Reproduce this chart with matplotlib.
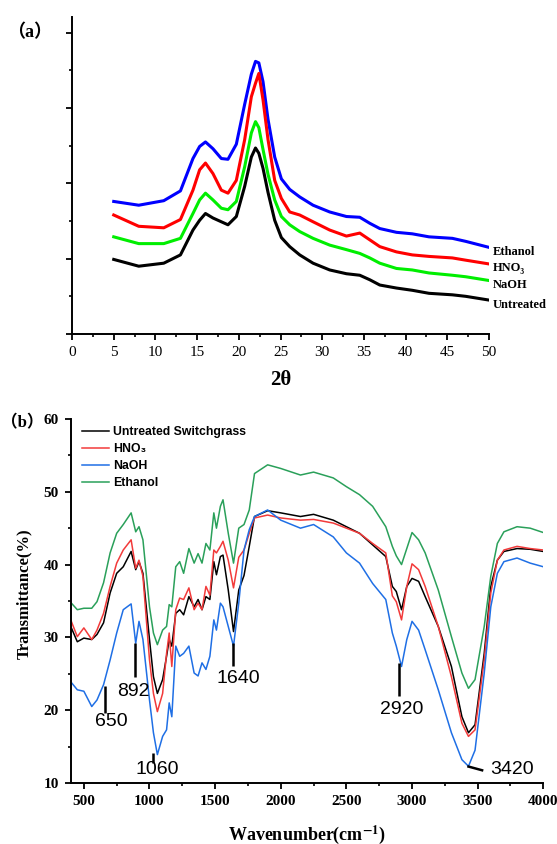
import matplotlib.pyplot as plt
from matplotlib.ticker import MultipleLocator

serif = ['Liberation Serif', 'DejaVu Serif']
sans = ['Liberation Sans', 'DejaVu Sans']
paren = ['Liberation Serif', 'Noto Sans CJK SC']
plt.rcParams['mathtext.fontset'] = 'stix'

# (a) XRD patterns, arbitrary offset units
two_theta = [5, 8, 11, 13, 14.5, 15.3, 16, 16.9, 17.9, 18.7, 19.7, 20.7, 21.5, 22.0, 22.4,
             22.9, 23.5, 24.3, 25.1, 26.1, 27.3, 28.9, 30.9, 32.9, 34.5, 35.7, 36.9, 38.9,
             40.8, 42.8, 45.6, 47.2, 50]
xrd_ethanol = [1.76, 1.71, 1.77, 1.90, 2.33, 2.49, 2.55, 2.46, 2.33, 2.32, 2.52, 3.05, 3.45, 3.62,
               3.60, 3.35, 2.85, 2.35, 2.06, 1.92, 1.82, 1.71, 1.62, 1.56, 1.55, 1.47, 1.40, 1.35,
               1.33, 1.29, 1.27, 1.23, 1.15]
xrd_hno3 = [1.58, 1.43, 1.41, 1.52, 1.91, 2.18, 2.27, 2.13, 1.91, 1.87, 2.04, 2.58, 3.15, 3.33,
            3.46, 3.11, 2.58, 2.04, 1.80, 1.62, 1.58, 1.49, 1.38, 1.30, 1.34, 1.25, 1.16, 1.09,
            1.05, 1.03, 1.01, 0.98, 0.93]
xrd_naoh = [1.29, 1.20, 1.20, 1.27, 1.60, 1.78, 1.87, 1.78, 1.67, 1.65, 1.76, 2.22, 2.67, 2.82,
            2.74, 2.45, 2.12, 1.78, 1.56, 1.45, 1.36, 1.27, 1.18, 1.12, 1.07, 1.01, 0.94, 0.87,
            0.85, 0.81, 0.78, 0.76, 0.71]
xrd_untreated = [0.99, 0.90, 0.94, 1.05, 1.38, 1.51, 1.60, 1.54, 1.49, 1.45, 1.56, 1.96, 2.35, 2.47,
                 2.40, 2.20, 1.88, 1.51, 1.28, 1.16, 1.05, 0.94, 0.85, 0.80, 0.78, 0.72, 0.65, 0.61,
                 0.58, 0.54, 0.52, 0.50, 0.45]
xrd_names = ['Ethanol', 'HNO₃', 'NaOH', 'Untreated']

# (b) FTIR spectra, transmittance %
wavenumber = [400, 450, 500, 560, 600, 650, 700, 750, 800, 860, 895, 920, 950, 1000, 1030, 1060,
              1100, 1130, 1150, 1170, 1200, 1230, 1260, 1300, 1340, 1370, 1400, 1430, 1460, 1490,
              1510, 1540, 1560, 1600, 1640, 1680, 1720, 1760, 1800, 1900, 2000, 2150, 2250, 2400,
              2500, 2600, 2700, 2800, 2850, 2880, 2920, 2960, 3000, 3050, 3100, 3200, 3300, 3380,
              3430, 3480, 3550, 3600, 3650, 3700, 3800, 3900, 4000]
ftir_untreated = [31.5, 29.4, 29.9, 29.7, 30.4, 32.0, 36.1, 38.8, 39.7, 41.8, 39.3, 40.4, 38.8, 29.7,
                  24.6, 22.3, 24.2, 27.4, 29.7, 28.8, 33.3, 33.8, 33.1, 35.6, 34.2, 35.2, 33.8, 35.6,
                  35.2, 40.4, 38.6, 41.1, 41.3, 36.5, 30.8, 36.5, 38.5, 42.5, 46.6, 47.4, 47.1, 46.6,
                  46.9, 46.1, 45.2, 44.3, 42.7, 41.1, 37.0, 36.3, 33.8, 37.0, 38.1, 37.7, 35.6, 31.5,
                  26.0, 19.1, 16.9, 18.0, 27.8, 37.0, 40.6, 41.8, 42.2, 42.1, 41.8]
ftir_hno3 = [32.4, 30.1, 31.3, 29.7, 31.0, 33.3, 37.0, 40.2, 42.0, 43.4, 39.5, 40.6, 38.4, 26.9,
             22.3, 19.8, 22.3, 27.8, 30.6, 26.0, 33.8, 35.4, 35.2, 36.8, 33.8, 34.7, 33.8, 37.0,
             35.8, 42.0, 41.6, 42.5, 43.2, 40.6, 36.8, 41.0, 42.0, 44.3, 46.4, 46.8, 46.4, 46.1,
             46.2, 45.7, 45.0, 44.3, 42.9, 41.6, 35.7, 34.9, 32.4, 37.0, 40.1, 39.3, 37.0, 31.5,
             24.6, 18.2, 16.4, 17.3, 26.9, 36.1, 40.6, 42.0, 42.5, 42.2, 42.0]
ftir_naoh = [23.9, 22.8, 22.6, 20.5, 21.4, 23.5, 26.9, 30.6, 33.8, 34.6, 29.2, 32.2, 29.7, 21.4,
             16.9, 13.9, 16.4, 17.3, 21.0, 19.1, 28.8, 27.4, 27.8, 28.8, 25.1, 24.7, 26.5, 25.6,
             27.4, 32.4, 31.0, 34.7, 34.2, 31.5, 28.8, 34.7, 42.0, 44.8, 46.6, 47.5, 46.1, 45.0,
             45.5, 43.8, 41.6, 40.2, 37.4, 35.2, 30.6, 28.8, 26.0, 29.7, 32.2, 31.0, 28.3, 22.8,
             16.9, 13.2, 12.3, 14.5, 25.1, 34.2, 38.8, 40.4, 40.9, 40.2, 39.7]
ftir_ethanol = [34.8, 33.8, 34.0, 34.0, 34.9, 37.5, 41.6, 44.3, 45.5, 47.1, 44.5, 45.2, 43.4, 34.2,
                30.6, 29.0, 31.0, 31.5, 34.5, 34.2, 39.7, 40.4, 38.8, 42.2, 40.2, 41.5, 40.2, 42.9,
                42.0, 47.1, 45.0, 48.0, 48.9, 44.3, 40.2, 45.0, 45.5, 47.5, 52.5, 53.7, 53.2, 52.3,
                52.7, 51.9, 50.7, 49.6, 48.0, 45.2, 42.5, 41.2, 40.0, 42.2, 44.4, 43.4, 41.6, 36.5,
                30.1, 25.1, 23.0, 24.2, 31.5, 38.4, 42.9, 44.5, 45.2, 45.0, 44.4]
ftir_names = ['Untreated Switchgrass', 'HNO₃', 'NaOH', 'Ethanol']
peak_labels = ['650', '892', '1060', '1640', '2920', '3420']

fig = plt.figure(figsize=(5.57, 8.44), dpi=100)

# ---- panel (a)
ax1 = fig.add_axes([0.1293, 0.6043, 0.7487, 0.3756])
xrd = [xrd_ethanol, xrd_hno3, xrd_naoh, xrd_untreated]
xrd_colors = ['#0000ff', '#ff0000', '#00ee00', 'black']
for ys, c in zip(xrd, xrd_colors):
    ax1.plot(two_theta, ys, color=c, lw=2.2)
for name, ys in zip(xrd_names, xrd):
    ax1.text(50.4, ys[-1] - 0.06, name, ha='left', va='center', fontsize=9,
             fontweight='bold', family=serif, clip_on=False)
ax1.set_xlim(0, 50)
ax1.set_ylim(0, 4.21)
ax1.xaxis.set_major_locator(MultipleLocator(5))
ax1.xaxis.set_minor_locator(MultipleLocator(2.5))
ax1.yaxis.set_major_locator(MultipleLocator(1))
ax1.yaxis.set_minor_locator(MultipleLocator(0.5))
ax1.set_yticklabels([])
for lab in ax1.get_xticklabels():
    lab.set_family(serif)
    lab.set_fontsize(11)
ax1.set_xlabel('2θ', fontsize=15, fontweight='bold', family=serif)
ax1.xaxis.set_label_coords(0.5, -0.115)
fig.text(0.012, 0.962, '（a）', fontsize=13, fontweight='bold', family=paren, va='center')

# ---- panel (b)
ax2 = fig.add_axes([0.127, 0.0723, 0.8484, 0.4313])
ftir = [ftir_untreated, ftir_hno3, ftir_naoh, ftir_ethanol]
ftir_colors = ['black', '#f23a3a', '#1f6fe5', '#2aa05a']
for ys, c, name in zip(ftir, ftir_colors, ftir_names):
    ax2.plot(wavenumber, ys, color=c, lw=1.1, label=name)
ax2.legend(loc='upper left', bbox_to_anchor=(0.0, 1.01), frameon=False,
           prop={'family': sans, 'weight': 'bold', 'size': 8.8},
           handlelength=2.2, handletextpad=0.35, labelspacing=0.4)

# peak markers
bars = [(660, 19.6, 23.3), (888, 24.6, 29.2), (1030, 12.7, 14.1),
        (1636, 26.0, 29.2), (2902, 21.9, 26.5)]
for (bx, y0, y1) in bars:
    ax2.plot([bx, bx], [y0, y1], color='black', lw=1.8, solid_capstyle='butt')
ax2.plot([3421, 3543], [12.3, 11.7], color='black', lw=1.8, solid_capstyle='butt')
label_pos = [(709, 18.5), (878, 22.5), (1057, 11.8), (1674, 24.4), (2918, 20.1), (3763, 11.8)]
for txt, (tx, ty) in zip(peak_labels, label_pos):
    ax2.text(tx, ty, txt, ha='center', va='center', fontsize=14, family=sans)

ax2.set_xlim(400, 4000)
ax2.set_ylim(10, 60)
ax2.xaxis.set_major_locator(MultipleLocator(500))
ax2.xaxis.set_minor_locator(MultipleLocator(250))
ax2.yaxis.set_major_locator(MultipleLocator(10))
ax2.yaxis.set_minor_locator(MultipleLocator(5))
for lab in ax2.get_xticklabels() + ax2.get_yticklabels():
    lab.set_family(serif)
    lab.set_fontweight('bold')
    lab.set_fontsize(11)
ax2.set_xlabel(r'Wavenumber(cm$^{\mathbf{-1}}$)', fontsize=13, fontweight='bold', family=serif)
ax2.xaxis.set_label_coords(0.5, -0.11)
ax2.set_ylabel('Transmittance(%)', fontsize=12, fontweight='bold', family=serif)
ax2.yaxis.set_label_coords(-0.082, 0.52)
fig.text(0.002, 0.499, '（b）', fontsize=12, fontweight='bold', family=paren, va='center')

for ax in (ax1, ax2):
    ax.spines['top'].set_visible(False)
    ax.spines['right'].set_visible(False)
    for s in ('left', 'bottom'):
        ax.spines[s].set_linewidth(1.4)
    ax.tick_params(which='major', direction='out', length=4.5, width=1.3, pad=4)
    ax.tick_params(which='minor', direction='out', length=2.2, width=1.2)

fig.savefig('out.png', dpi=100)
